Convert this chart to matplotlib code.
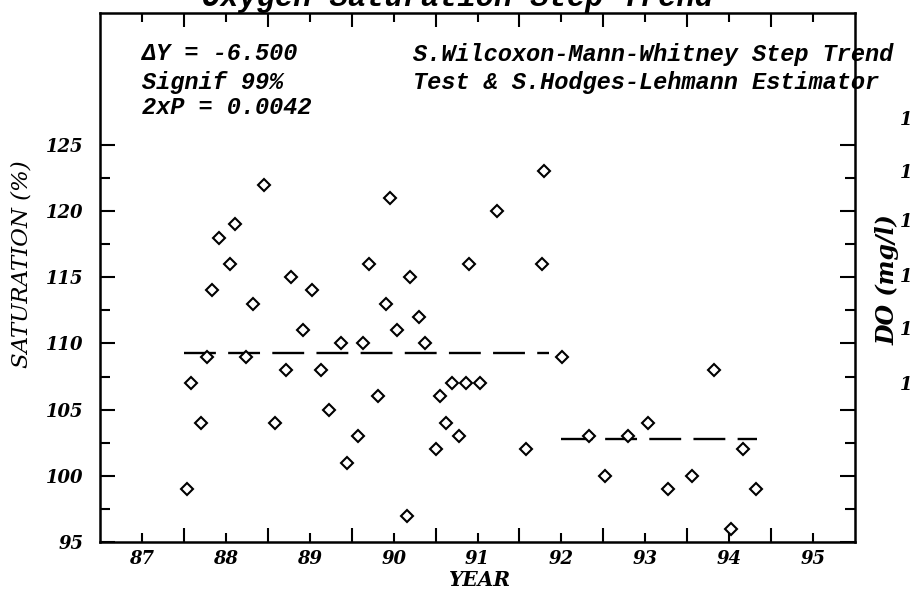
import matplotlib
matplotlib.use("Agg")
import matplotlib.pyplot as plt

# Oxygen saturation samples (decimal year, % saturation)
years = [88.04, 88.09, 88.20, 88.27, 88.34, 88.42, 88.55, 88.61, 88.74, 88.82,
         88.95, 89.09, 89.22, 89.28, 89.42, 89.53, 89.63, 89.73, 89.87, 89.94,
         90.08, 90.14, 90.21, 90.31, 90.41, 90.46, 90.54, 90.66, 90.70, 90.80,
         90.87, 91.00, 91.05, 91.12, 91.20, 91.28, 91.36, 91.40, 91.53, 91.73,
         92.08, 92.27, 92.29, 92.51, 92.83, 93.02, 93.29, 93.53, 93.77, 94.06,
         94.32, 94.52, 94.66, 94.82]
saturation = [99, 107, 104, 109, 114, 118, 116, 119, 109, 113,
              122, 104, 108, 115, 111, 114, 108, 105, 110, 101,
              103, 110, 116, 106, 113, 121, 111, 97, 115, 112,
              110, 102, 106, 104, 107, 103, 107, 116, 107, 120,
              102, 116, 123, 109, 103, 100, 103, 104, 99, 100,
              108, 96, 102, 99]

# Hodges-Lehmann step levels (before / after the step)
step_start = [88.0, 92.5]
step_end = [92.35, 94.83]
step_level = [109.25, 102.75]

# axis ticks
year_edges = [88, 89, 90, 91, 92, 93, 94, 95]
year_mids = [87.5, 88.5, 89.5, 90.5, 91.5, 92.5, 93.5, 94.5, 95.5]
year_labels = ['87', '88', '89', '90', '91', '92', '93', '94', '95']
sat_ticks = [95, 100, 105, 110, 115, 120, 125]
sat_minor = [97.5, 102.5, 107.5, 112.5, 117.5, 122.5]
sat_labels = ['95', '100', '105', '110', '115', '120', '125']

W, H = 911, 592


def px(x, y):
    # pixel position -> figure fraction
    return x / W, 1 - y / H


serif_bi = dict(family='DejaVu Serif', weight='bold', style='italic')
mono = dict(family=['Liberation Mono', 'DejaVu Sans Mono'], weight='bold', style='italic')

fig = plt.figure(figsize=(W / 100, H / 100), dpi=100)
ax = fig.add_axes([100 / W, 1 - 542 / H, 755 / W, 529.5 / H])

# step trend lines
for x0, x1, lvl in zip(step_start, step_end, step_level):
    ax.plot([x0, x1], [lvl, lvl], color='black', lw=1.7,
            linestyle=(0, (13.5, 5.2)), zorder=2)

# data points
ax.plot(years, saturation, linestyle='none', marker='D', ms=6,
        mfc='white', mec='black', mew=1.5, zorder=3)

ax.set_xlim(87, 96)
ax.set_ylim(95, 135)

ax.set_xticks(year_edges, labels=[''] * len(year_edges))
ax.set_xticks(year_mids, labels=year_labels, minor=True, fontsize=13, **serif_bi)
ax.set_yticks(sat_ticks, labels=sat_labels, fontsize=13, **serif_bi)
ax.set_yticks(sat_minor, minor=True)

ax.tick_params(axis='x', which='major', direction='in', length=10, width=1.5, top=True)
ax.tick_params(axis='x', which='minor', direction='in', length=6.5, width=1.5, top=True, pad=6)
ax.tick_params(axis='y', which='major', direction='in', length=11, width=1.5, right=True, pad=12)
ax.tick_params(axis='y', which='minor', direction='in', length=7, width=1.5, right=True)
for s in ax.spines.values():
    s.set_linewidth(1.8)

# labels
fig.text(*px(22, 264), 'SATURATION (%)', rotation=90, ha='center', va='center',
         fontsize=16.5, family='DejaVu Serif', style='italic')
fig.text(*px(480, 580), 'YEAR', ha='center', va='center', fontsize=14.5, **serif_bi)
fig.text(*px(888, 280), 'DO (mg/l)', rotation=90, ha='center', va='center',
         fontsize=17, **serif_bi)
for y in [120, 173, 222, 277, 330, 385]:
    fig.text(*px(900, y), '1', ha='left', va='center', fontsize=13, **serif_bi)

# title (cut off at the top of the scan)
fig.text(*px(457, 6), 'Oxygen Saturation Step Trend', ha='center', va='baseline',
         fontsize=22, **mono)

# test results
fig.text(*px(142, 54), '\u0394Y = -6.500', va='center', fontsize=17, **mono)
fig.text(*px(142, 82), 'Signif 99%', va='center', fontsize=17, **mono)
fig.text(*px(142, 108), '2xP = 0.0042', va='center', fontsize=17, **mono)
fig.text(*px(413, 55), 'S.Wilcoxon-Mann-Whitney Step Trend', va='center', fontsize=17, **mono)
fig.text(*px(413, 83), 'Test & S.Hodges-Lehmann Estimator', va='center', fontsize=17, **mono)

fig.savefig('out.png', dpi=100)
